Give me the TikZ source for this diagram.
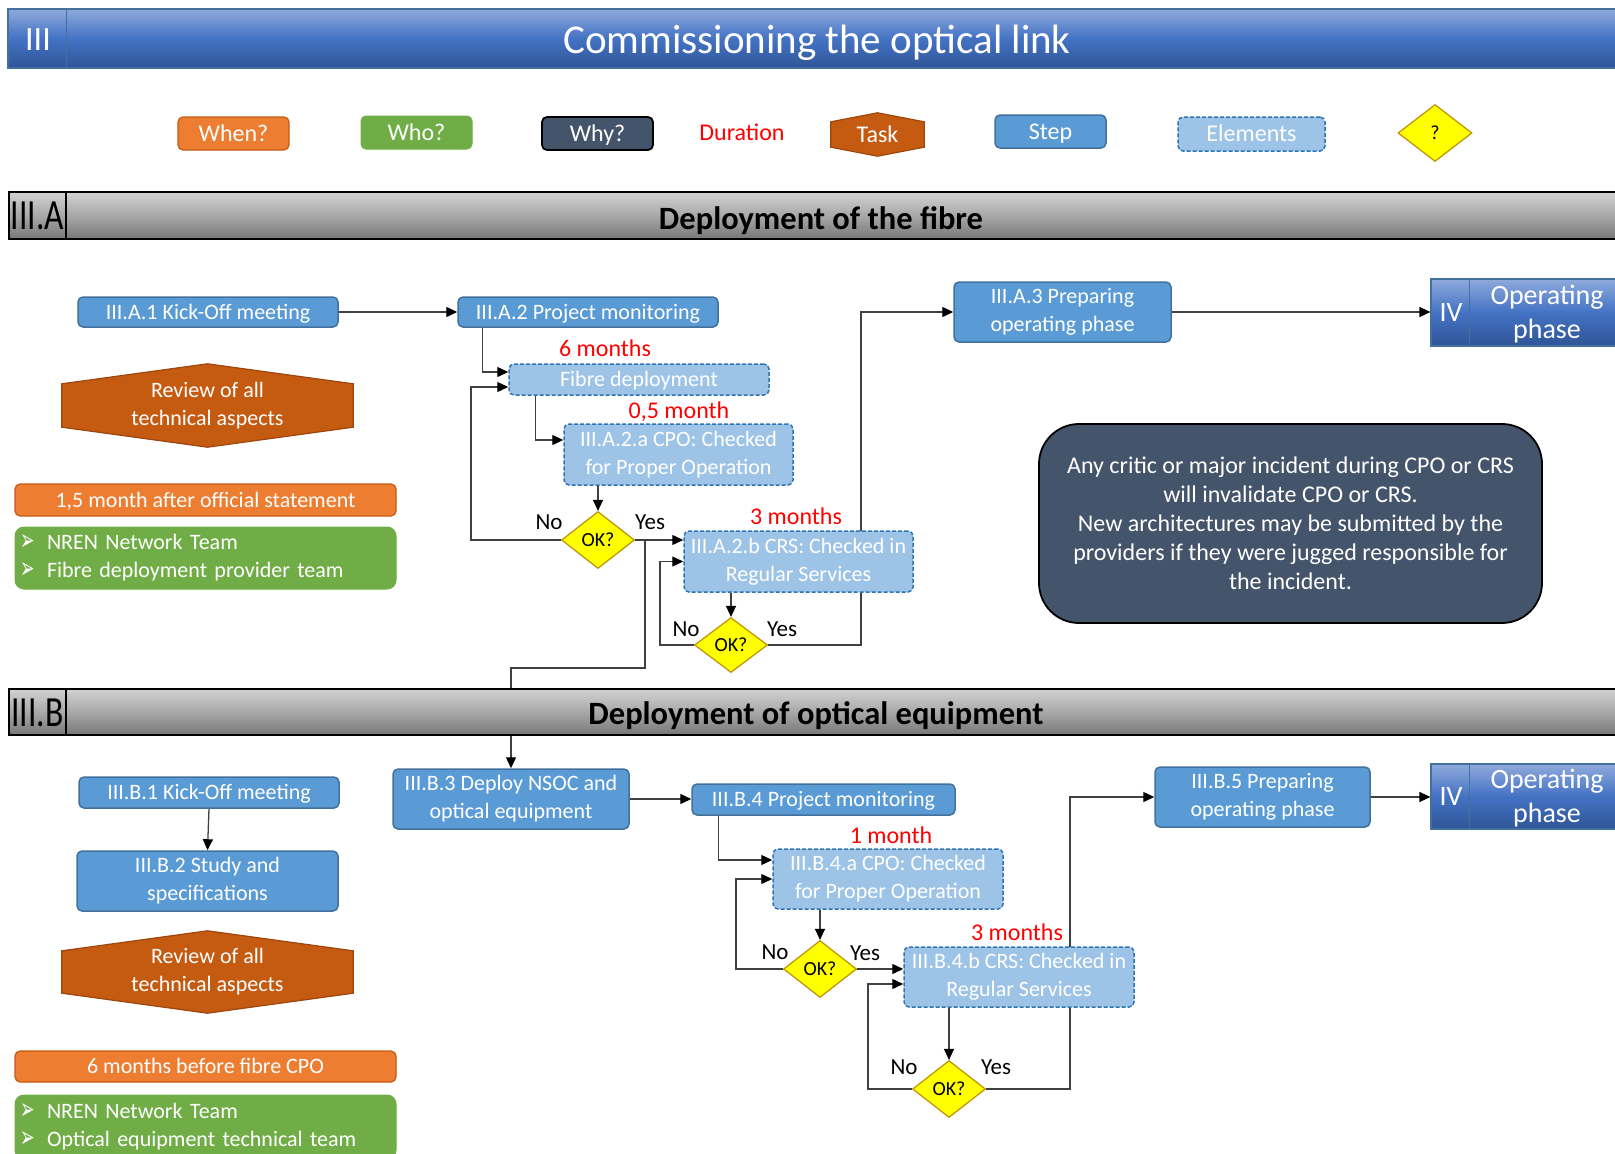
\documentclass[tikz,border=0pt]{standalone}
\usepackage{fontspec}
\usepackage{graphicx}
\setmainfont{Carlito}
\newfontfamily\symfont{DejaVu Sans}
\usetikzlibrary{shapes.geometric,arrows.meta,calc}
\pgfdeclarelayer{background}
\pgfsetlayers{background,main}

\definecolor{stepfill}{HTML}{5B9BD5}
\definecolor{stepline}{HTML}{41719C}
\definecolor{elemfill}{HTML}{9DC3E6}
\definecolor{elemline}{HTML}{2E75B6}
\definecolor{whenfill}{HTML}{ED7D31}
\definecolor{whenline}{HTML}{C55A11}
\definecolor{whofill}{HTML}{70AD47}
\definecolor{whyfill}{HTML}{44546A}
\definecolor{taskfill}{HTML}{C55A11}
\definecolor{taskline}{HTML}{9E470E}
\definecolor{okfill}{HTML}{FFFF00}
\definecolor{okline}{HTML}{BF9000}
\definecolor{bartop}{HTML}{8FAADC}
\definecolor{barmid}{HTML}{4472C4}
\definecolor{barbot}{HTML}{2F5597}
\definecolor{grtop}{HTML}{D2D2D2}
\definecolor{grmid}{HTML}{A8A8A8}
\definecolor{grbot}{HTML}{777777}
\definecolor{wire}{HTML}{404040}
\definecolor{durred}{HTML}{FF0000}

% hexagonal "task" outline drawn behind a named node
\newcommand{\taskhex}[2]{%
  \begin{pgfonlayer}{background}
    \filldraw[fill=taskfill, draw=taskline, line width=1.2pt]
      ([yshift=-#2]#1.north west) -- (#1.north) -- ([yshift=-#2]#1.north east)
      -- ([yshift=#2]#1.south east) -- (#1.south) -- ([yshift=#2]#1.south west) -- cycle;
  \end{pgfonlayer}}
% list bullet (smashed so that it leaves the line spacing alone)
\newcommand{\arrowbullet}{\makebox[27pt][l]{\smash{\raisebox{-1pt}{\scalebox{0.72}[1.25]{\symfont\fontsize{24}{28}\selectfont ➢}}}}}
% tall, narrow section number
\newcommand{\secnum}[1]{\scalebox{0.78}[1]{\fontsize{43}{46}\selectfont #1}}

\tikzset{
  txt/.style={font=\fontsize{22}{28}\selectfont},
  big/.style={font=\fontsize{24}{28}\selectfont},
  % single-line text: capitals centred on the node centre
  one22/.style={text height=17.5pt, text depth=3.4pt},
  one24/.style={text height=19pt, text depth=3.6pt},
  stepbox/.style={rectangle, rounded corners=5pt, fill=stepfill, draw=stepline,
    line width=1.5pt, text=white, align=center, inner sep=0pt, txt},
  elembox/.style={stepbox, fill=elemfill, draw=elemline, dash pattern=on 4pt off 2pt},
  whenbox/.style={rectangle, rounded corners=5pt, fill=whenfill, draw=whenline,
    line width=1.2pt, text=white, inner sep=0pt, txt},
  whobox/.style={rectangle, rounded corners=9pt, fill=whofill, draw=whofill,
    line width=1pt, text=white, inner sep=0pt, txt},
  whybox/.style={rectangle, rounded corners=5pt, fill=whyfill, draw=black,
    line width=1.8pt, text=white, inner sep=0pt, big},
  tasktext/.style={text=white, inner sep=0pt, align=center},
  okdia/.style={diamond, aspect=1.28, fill=okfill, draw=okline, line width=1.2pt,
    minimum width=73pt, minimum height=57pt, inner sep=0pt,
    font=\fontsize{20}{24}\selectfont},
  bluebar/.style={rectangle, draw=stepline, line width=1.2pt, inner sep=0pt,
    top color=bartop, bottom color=barbot, middle color=barmid},
  greybar/.style={rectangle, draw=black, line width=1.8pt, inner sep=0pt,
    top color=grtop, bottom color=grbot, middle color=grmid},
  headtxt/.style={inner sep=0pt, text height=26pt, text depth=5.1pt,
    font=\fontsize{32.5}{36}\selectfont\bfseries},
  lbl/.style={inner sep=0pt, one24, font=\fontsize{23}{28}\selectfont},
  dur/.style={inner sep=0pt, text=durred, one24, big},
  arr/.style={draw=wire, line width=1.3pt,
    -{Triangle[length=11pt,width=10pt,color=black]}},
}

\begin{document}
\begin{tikzpicture}[x=1pt,y=-1pt]
\useasboundingbox (0,0) rectangle (1615,1154);
\clip (0,0) rectangle (1615,1154);

% ---------- title bar ----------
\node[bluebar, minimum width=1622pt, minimum height=59pt] (title) at (819,38.5) {};
\draw[stepline, line width=1.2pt] ([xshift=59pt]title.north west) -- ([xshift=59pt]title.south west);
\node[text=white, inner sep=0pt, text height=22pt, text depth=0pt, font=\fontsize{34}{36}\selectfont] (titlenum) at (38,39) {III};
\node[text=white, inner sep=0pt, text height=32pt, text depth=5.6pt, font=\fontsize{41}{44}\selectfont] (titletext) at (817,40) {Commissioning the optical link};

% ---------- legend ----------
\node[whenbox, minimum width=111pt, minimum height=33pt, big, one24] (lgwhen) at (233.5,133.5) {When?};
\node[whobox, rounded corners=5pt, minimum width=111pt, minimum height=33pt, big, one24] (lgwho) at (416.5,132.5) {Who?};
\node[whybox, minimum width=111pt, minimum height=33pt, one24] (lgwhy) at (597.5,133.5) {Why?};
\node[dur] (lgdur) at (742,133) {Duration};
\node[tasktext, minimum width=93pt, minimum height=43pt, big, one24] (lgtask) at (877.5,134.5) {Task};
\taskhex{lgtask}{9pt}
\node[stepbox, minimum width=111pt, minimum height=33pt, big, one24] (lgstep) at (1050.5,131.5) {Step};
\node[elembox, minimum width=147pt, minimum height=34pt, big, one24] (lgelem) at (1251.5,134) {Elements};
\node[okdia, minimum width=74pt] (lgok) at (1435,133) {?};

% ---------- section III.A ----------
\node[greybar, minimum width=1621pt, minimum height=47pt] (barA) at (819.5,215.5) {};
\draw[black, line width=1.8pt] ([xshift=58pt]barA.north west) -- ([xshift=58pt]barA.south west);
\node[inner sep=0pt] (barAnum) at (37.5,216) {\secnum{III.A}};
\node[headtxt] (barAtxt) at (821,219) {Deployment of the fibre};

\node[stepbox, one22, minimum width=260pt, minimum height=30pt] (A1) at (208,312) {III.A.1 Kick-Off meeting};
\node[stepbox, one22, minimum width=260pt, minimum height=30pt] (A2) at (588,312) {III.A.2 Project monitoring};
\node[elembox, one22, minimum width=260pt, minimum height=31pt] (fib) at (639,379.5) {Fibre deployment};
\node[elembox, minimum width=229pt, minimum height=61pt] (cpoA) at (678.5,454.5) {III.A.2.a CPO: Checked\\for Proper Operation};
\node[elembox, minimum width=229pt, minimum height=61pt] (crsA) at (798.5,561.5) {III.A.2.b CRS: Checked in\\Regular Services};
\node[okdia] (ok1) at (598,540) {OK?};
\node[okdia, minimum height=55pt] (ok2) at (731,645) {OK?};
\node[stepbox, minimum width=217pt, minimum height=60pt] (A3) at (1062.5,312) {III.A.3 Preparing\\operating phase};

\node[bluebar, minimum width=200pt, minimum height=67pt] (ivA) at (1531,312.5) {};
\draw[stepline, line width=1.2pt] ([xshift=39pt]ivA.north west) -- ([xshift=39pt]ivA.south west);
\node[text=white, font=\fontsize{28}{34}\selectfont] (ivAnum) at (1451,313) {IV};
\node[text=white, align=center, font=\fontsize{28}{34}\selectfont] (ivAtxt) at (1547,314) {Operating\\phase};

\node[dur] (durA1) at (605,349) {6 months};
\node[dur] (durA2) at (679,411) {0,5 month};
\node[dur] (durA3) at (796,517) {3 months};
\node[lbl] (noA1) at (549,522) {No};
\node[lbl] (yesA1) at (650,522) {Yes};
\node[lbl] (noA2) at (686,629) {No};
\node[lbl] (yesA2) at (782,629) {Yes};

\node[tasktext, minimum width=291pt, minimum height=83pt, txt] (revA) at (207.5,405.5) {Review of all\\technical aspects};
\taskhex{revA}{20pt}
\node[whenbox, one22, minimum width=381pt, minimum height=32pt] (whenA) at (205.5,500) {1,5 month after official statement};
\node[whobox, minimum width=381pt, minimum height=62pt, align=left, text width=371pt] (whoA) at (205.5,558)
  {\arrowbullet NREN Network Team\\
   \arrowbullet Fibre deployment provider team};

\node[rectangle, rounded corners=40pt, fill=whyfill, draw=black, line width=1.8pt,
  minimum width=503pt, minimum height=199pt, inner sep=0pt, text=white, align=center,
  font=\fontsize{24}{29}\selectfont] (note) at (1290.5,523.5)
  {Any critic or major incident during CPO or CRS\\
   will invalidate CPO or CRS.\\
   New architectures may be submitted by the\\
   providers if they were jugged responsible for\\
   the incident.};

% ---------- section III.B ----------
\node[stepbox, one22, minimum width=260pt, minimum height=31pt] (B1) at (209,792.5) {III.B.1 Kick-Off meeting};
\node[stepbox, minimum width=261pt, minimum height=60pt] (B2) at (207.5,881) {III.B.2 Study and\\specifications};
\node[tasktext, minimum width=291pt, minimum height=82pt, txt] (revB) at (207.5,972) {Review of all\\technical aspects};
\taskhex{revB}{20pt}
\node[whenbox, one22, minimum width=381pt, minimum height=31pt] (whenB) at (205.5,1066.5) {6 months before fibre CPO};
\node[whobox, minimum width=381pt, minimum height=64pt, align=left, text width=371pt] (whoB) at (205.5,1127)
  {\arrowbullet NREN Network Team\\
   \arrowbullet Optical equipment technical team};

\node[stepbox, minimum width=236pt, minimum height=60pt] (B3) at (511,799) {III.B.3 Deploy NSOC and\\optical equipment};
\node[stepbox, one22, minimum width=263pt, minimum height=31pt] (B4) at (823.5,799.5) {III.B.4 Project monitoring};
\node[elembox, minimum width=230pt, minimum height=60pt] (cpoB) at (888,879) {III.B.4.a CPO: Checked\\for Proper Operation};
\node[elembox, minimum width=230pt, minimum height=60pt] (crsB) at (1019,977) {III.B.4.b CRS: Checked in\\Regular Services};
\node[okdia] (ok3) at (820,969) {OK?};
\node[okdia] (ok4) at (949,1089) {OK?};
\node[stepbox, minimum width=215pt, minimum height=60pt] (B5) at (1262.5,797) {III.B.5 Preparing\\operating phase};

\node[bluebar, minimum width=200pt, minimum height=65pt] (ivB) at (1531,796.5) {};
\draw[stepline, line width=1.2pt] ([xshift=39pt]ivB.north west) -- ([xshift=39pt]ivB.south west);
\node[text=white, font=\fontsize{28}{34}\selectfont] (ivBnum) at (1451,797) {IV};
\node[text=white, align=center, font=\fontsize{28}{34}\selectfont] (ivBtxt) at (1547,798) {Operating\\phase};

\node[dur] (durB1) at (891,836) {1 month};
\node[dur] (durB2) at (1017,933) {3 months};
\node[lbl] (noB1) at (775,952) {No};
\node[lbl] (yesB1) at (865,953) {Yes};
\node[lbl] (noB2) at (904,1067) {No};
\node[lbl] (yesB2) at (996,1067) {Yes};

% ---------- connectors ----------
\begin{pgfonlayer}{background}
\draw[arr] (A1.east) -- (A2.west);
\draw[arr] ([xshift=25pt]A2.south west) |- ([yshift=7.5pt]fib.west);
\draw[arr] ([xshift=27pt]fib.south west) |- ([yshift=14.5pt]cpoA.west);
\draw[arr] (ok1.north |- cpoA.south) -- (ok1.north);
\draw[arr] (ok1.east) -- (ok1.east -| crsA.west);
\draw[arr] (ok1.west) -- ++(-90,0) |- ([yshift=-7.5pt]fib.west);
\draw[arr] ([xshift=10pt]ok1.east) -- ++(0,128) -| (B3.north);
\draw[arr] (ok2.north |- crsA.south) -- (ok2.north);
\draw[arr] (ok2.west) -- ++(-34,0) |- (crsA.west);
\draw[arr] (ok2.east) -- ++(93,0) |- (A3.west);
\draw[arr] (A3.east) -- (A3.east -| ivA.west);

\draw[arr] (B1.south) -- (B2.north);
\draw[arr] (B3.east) -- (B3.east -| B4.west);
\draw[arr] ([xshift=27pt]B4.south west) |- ([yshift=19pt]cpoB.west);
\draw[arr] (ok3.north |- cpoB.south) -- (ok3.north);
\draw[arr] (ok3.east) -- (ok3.east -| crsB.west);
\draw[arr] (ok3.west) -- ++(-47,0) |- (cpoB.west);
\draw[arr] (ok4.north |- crsB.south) -- (ok4.north);
\draw[arr] (ok4.west) -- ++(-44,0) |- ([yshift=-7pt]crsB.west);
\draw[arr] (ok4.east) -- ++(84,0) |- (B5.west);
\draw[arr] (B5.east) -- (B5.east -| ivB.west);
\end{pgfonlayer}

% section III.B bar, drawn over the connector that passes through it
\node[greybar, minimum width=1621pt, minimum height=46pt] (barB) at (819.5,712) {};
\draw[black, line width=1.8pt] ([xshift=58pt]barB.north west) -- ([xshift=58pt]barB.south west);
\node[inner sep=0pt] (barBnum) at (37.5,712.5) {\secnum{III.B}};
\node[headtxt] (barBtxt) at (816,714) {Deployment of optical equipment};

\end{tikzpicture}
\end{document}
